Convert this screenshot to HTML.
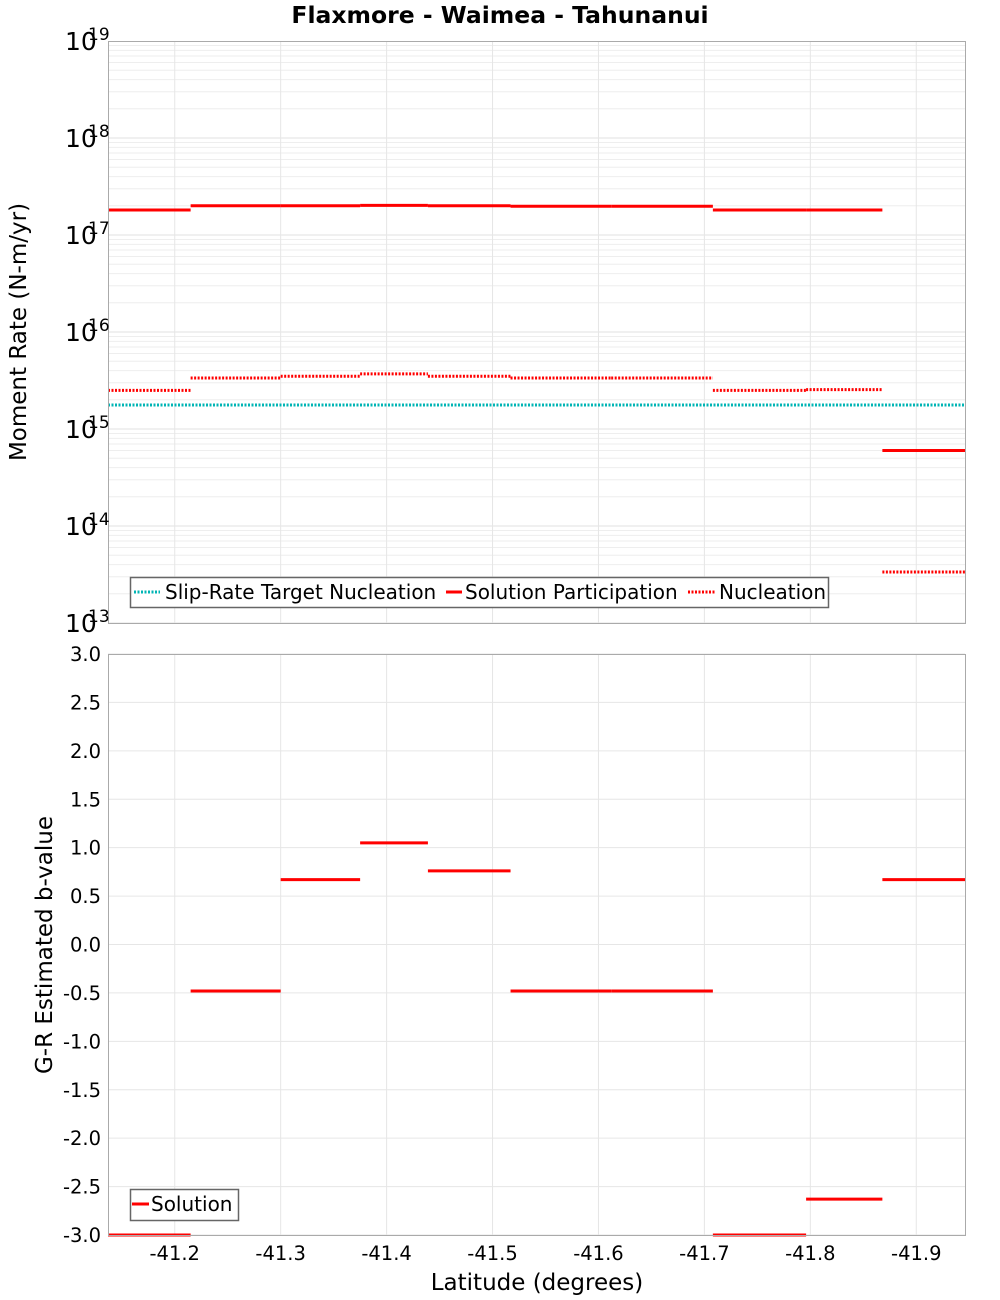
<!DOCTYPE html>
<html><head><meta charset="utf-8"><style>
body{margin:0;background:#fff;}
svg{display:block;font-family:"DejaVu Sans","Liberation Sans",sans-serif;}
</style></head><body>
<svg id="chart" width="1000" height="1300" viewBox="0 0 1000 1300">
<text x="500" y="23" text-anchor="middle" font-size="23.5" font-weight="bold">Flaxmore - Waimea - Tahunanui</text>
<g id="top-grid"></g>
<g id="bot-grid"></g>
<g id="top-series"></g>
<g id="bot-series"></g>
<rect x="108.5" y="41.5" width="857" height="582" fill="none" stroke="#aaa"/>
<rect x="108.5" y="654.5" width="857" height="581" fill="none" stroke="#aaa"/>
<g id="top-ylabels"></g>
<g id="bot-ylabels"></g>
<g id="xlabels"></g>
<text transform="translate(26,332) rotate(-90)" text-anchor="middle" font-size="23">Moment Rate (N-m/yr)</text>
<text transform="translate(52,945) rotate(-90)" text-anchor="middle" font-size="23">G-R Estimated b-value</text>
<text x="537" y="1290" text-anchor="middle" font-size="23">Latitude (degrees)</text>
<g>
<rect x="130.5" y="577.5" width="698" height="30" fill="#fff" stroke="#666" stroke-width="1.5"/>
<line x1="134" y1="592" x2="160" y2="592" stroke="#00b5b5" stroke-width="3" stroke-dasharray="2,1.5"/>
<text x="165" y="599" font-size="20">Slip-Rate Target Nucleation</text>
<line x1="446" y1="592" x2="462" y2="592" stroke="#f00" stroke-width="3"/>
<text x="465" y="599" font-size="20">Solution Participation</text>
<line x1="688" y1="592" x2="716" y2="592" stroke="#f00" stroke-width="3" stroke-dasharray="2,1.5"/>
<text x="719" y="599" font-size="20">Nucleation</text>
</g>
<g>
<rect x="130.5" y="1189.5" width="108" height="31" fill="#fff" stroke="#666" stroke-width="1.5"/>
<line x1="132" y1="1204" x2="149" y2="1204" stroke="#f00" stroke-width="3"/>
<text x="151" y="1211" font-size="20">Solution</text>
</g>
</svg>
<script>
const bounds = [-41.137, -41.215, -41.300, -41.375, -41.439, -41.517, -41.612, -41.708, -41.796, -41.868, -41.946];
const participation = [1.81e17, 2.0e17, 2.0e17, 2.02e17, 2.0e17, 1.98e17, 1.98e17, 1.81e17, 1.81e17, 6.0e14];
const nucleation = [2.5e15, 3.36e15, 3.5e15, 3.7e15, 3.5e15, 3.36e15, 3.36e15, 2.5e15, 2.55e15, 3.36e13];
const target = [1.77e15];
const bValues = [-3.0, -0.48, 0.67, 1.05, 0.76, -0.48, -0.48, -3.0, -2.63, 0.67];
const xTicks = [-41.2, -41.3, -41.4, -41.5, -41.6, -41.7, -41.8, -41.9];
const logTicks = [13, 14, 15, 16, 17, 18, 19];
const bTicks = [-3.0, -2.5, -2.0, -1.5, -1.0, -0.5, 0.0, 0.5, 1.0, 1.5, 2.0, 2.5, 3.0];

const NS = 'http://www.w3.org/2000/svg';
const X0 = 108, X1 = 965;
function xs(v){ return X0 + (v - bounds[0]) / (bounds[bounds.length-1] - bounds[0]) * (X1 - X0); }
function yLog(v){ return 623 - (Math.log10(v) - 13) / 6 * 582; }
function yB(v){ return 1235 - (v + 3) / 6 * 581; }
function mk(parent, tag, attrs){ const e = document.createElementNS(NS, tag); for (const k in attrs) e.setAttribute(k, attrs[k]); document.getElementById(parent).appendChild(e); return e; }

for (let d = 13; d < 19; d++) for (let m = 1; m < 10; m++) {
  const y = yLog(m * Math.pow(10, d));
  const l = mk('top-grid', 'line', {x1: X0, x2: X1, y1: y, y2: y, stroke: m === 1 ? '#e2e2e2' : '#eeeeee', 'stroke-width': 1});
  
  
}
xTicks.forEach(t => {
  const x = xs(t);
  const a = mk('top-grid', 'line', {x1: x, x2: x, y1: 41, y2: 623, stroke: '#e6e6e6'});
  
  
  const b = mk('bot-grid', 'line', {x1: x, x2: x, y1: 654, y2: 1235, stroke: '#e6e6e6'});
  
  
  const lab = mk('xlabels', 'text', {x: x, y: 1260, 'text-anchor': 'middle', 'font-size': 19.5});
  lab.textContent = t.toFixed(1);
  
  
});
bTicks.forEach(t => {
  const y = yB(t);
  const g = mk('bot-grid', 'line', {x1: X0, x2: X1, y1: y, y2: y, stroke: '#e6e6e6'});
  
  
  const lab = mk('bot-ylabels', 'text', {x: 101, y: y + 7, 'text-anchor': 'end', 'font-size': 19.5});
  lab.textContent = t.toFixed(1);
  
  
});
logTicks.forEach(d => {
  const y = yLog(Math.pow(10, d));
  const lab = mk('top-ylabels', 'text', {x: 65, y: y + 9, 'font-size': 25});
  lab.textContent = '10';
  
  
  const ex = mk('top-ylabels', 'text', {x: 88, y: y - 1, 'font-size': 17});
  ex.textContent = String(d);
  
  
});

const tl = mk('top-series', 'line', {x1: X0, x2: X1, y1: yLog(target[0]), y2: yLog(target[0]), stroke: '#00b5b5', 'stroke-width': 3, 'stroke-dasharray': '2,1.5'});



for (let i = 0; i < participation.length; i++) {
  const xa = xs(bounds[i]), xb = xs(bounds[i+1]);
  const n = mk('top-series', 'line', {x1: xa, x2: xb, y1: yLog(nucleation[i]), y2: yLog(nucleation[i]), stroke: '#f00', 'stroke-width': 3, 'stroke-dasharray': '2,1.5'});
  
  
  const p = mk('top-series', 'line', {x1: xa, x2: xb, y1: yLog(participation[i]), y2: yLog(participation[i]), stroke: '#f00', 'stroke-width': 3});
  
  
  const b = mk('bot-series', 'line', {x1: xa, x2: xb, y1: yB(bValues[i]), y2: yB(bValues[i]), stroke: '#f00', 'stroke-width': 3});
  
  
}
</script>
</body></html>
